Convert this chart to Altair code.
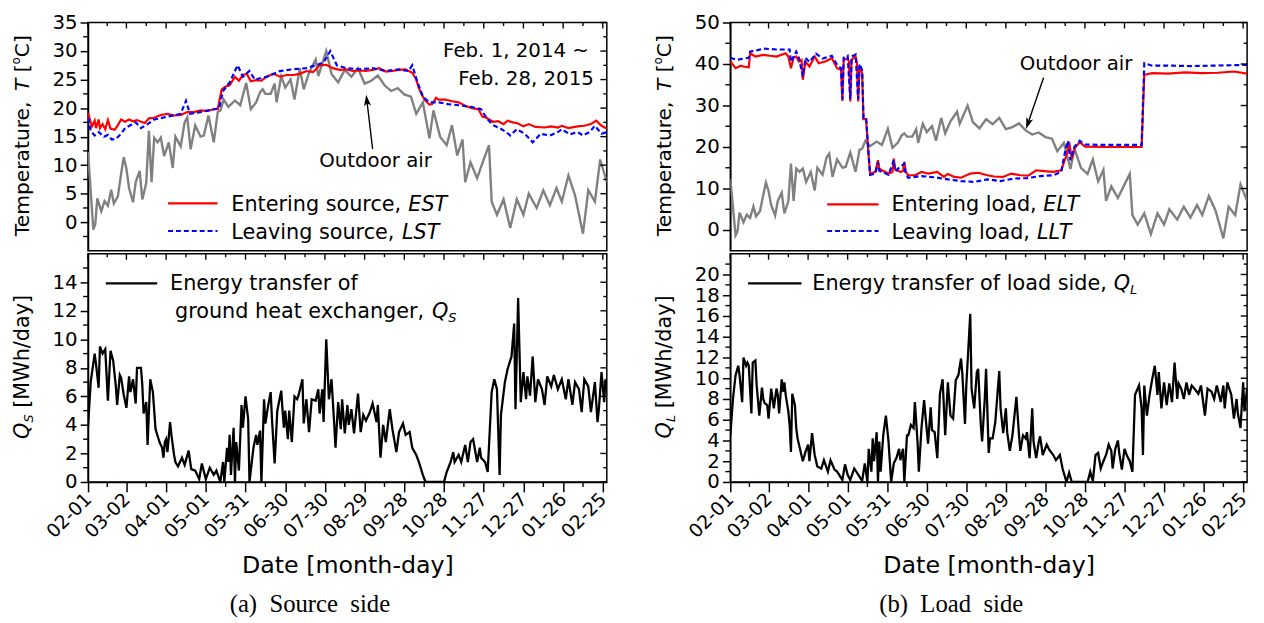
import math
import altair as alt
import pandas as pd

FONT = "DejaVu Sans"
SERIF = "Liberation Serif"
W_L, W_R, H = 525, 523, 231

# ---------------- axes ----------------
X_DOMAIN = [0, 392]
X_TICK_DAYS = [0, 29, 59, 89, 119, 149, 179, 209, 239, 269, 299, 329, 359, 389]
X_TICK_LABELS = ["02-01", "03-02", "04-01", "05-01", "05-31", "06-30", "07-30",
                 "08-29", "09-28", "10-28", "11-27", "12-27", "01-26", "02-25"]
X_MINOR_DAYS = [14.5, 44, 74, 104, 134, 164, 194, 224, 254, 284, 314, 344, 374]

TS_DOMAIN = [-5, 35]
TS_MAJOR = [0, 5, 10, 15, 20, 25, 30, 35]
TS_MINOR = [-2.5, 2.5, 7.5, 12.5, 17.5, 22.5, 27.5, 32.5]
QS_DOMAIN = [0, 16]
QS_MAJOR = [0, 2, 4, 6, 8, 10, 12, 14]
QS_MINOR = [1, 3, 5, 7, 9, 11, 13, 15]
TL_DOMAIN = [-5, 50]
TL_MAJOR = [0, 10, 20, 30, 40, 50]
TL_MINOR = [5, 15, 25, 35, 45]
QL_DOMAIN = [0, 22]
QL_MAJOR = [0, 2, 4, 6, 8, 10, 12, 14, 16, 18, 20]
QL_MINOR = [1, 3, 5, 7, 9, 11, 13, 15, 17, 19, 21]

# ---------------- data (day index from 2014-02-01, value) ----------------
OUTDOOR = [(0, 12.3), (4, -1.3), (5.5, -0.3), (7, 4.2), (10, 1.9), (12.5, 3.7), (15, 2.9),
           (17.5, 5.7), (19.5, 3.3), (22.5, 4.5), (25, 8.5), (27, 11.4), (29, 9.4), (31, 6),
           (34, 3.5), (36, 7), (39, 9), (41, 4), (44, 6.9), (46, 16), (48, 7), (50, 14.8),
           (52.5, 14), (55, 14.8), (57.5, 11.6), (61, 14), (64, 9.5), (66, 15), (70, 13.3),
           (73, 17.5), (75, 18.4), (77.5, 12.8), (81, 17), (85, 15), (87.5, 15.2), (91, 18.7),
           (95, 14), (98, 19.3), (100, 19.6), (102.5, 21.5), (106, 20.2), (111, 21.3), (115, 20.5),
           (119.5, 24.4), (123, 19.8), (127, 21), (130, 22.8), (132, 23.3), (134, 22.5),
           (138, 22.5), (141, 24.3), (142.5, 21), (146, 25.6), (149, 23.6), (153, 25), (156, 21.5),
           (160, 27), (163, 23.3), (167, 26.2), (172, 28.5), (174, 25.6), (180, 30), (184, 26),
           (189, 24.5), (194, 26.7), (199, 25.5), (204, 27), (209, 24.3), (214, 24.8), (219, 25.7),
           (224, 24), (229, 23), (234, 23.5), (239, 22.4), (244, 22), (248, 19), (253, 21),
           (258, 14.7), (261, 19.6), (266, 15), (271, 13.5), (275, 17), (279, 11.7), (283, 14.5),
           (285, 7), (289, 10.5), (294, 7.7), (299, 11), (303, 13.5), (305, 3.6), (309, 1.3),
           (314, 4), (319, -1), (324, 4), (329, 1.3), (333, 5), (339, 2.5), (344, 5.6), (349, 3),
           (354, 6), (358, 3.6), (363, 8.2), (368, 4.7), (374, -2), (378, 5.6), (383, 3.6),
           (387, 11), (392, 7)]

EST = [(0, 19.2), (2, 17.5), (3, 16.8), (5, 17.8), (6, 16.5), (8, 18), (9, 16.5), (11, 17.2),
       (13, 16.3), (15, 17.9), (17, 16.4), (20, 16.2), (22, 16.8), (25, 18), (28, 17.6), (31, 18),
       (34, 17.7), (37, 17.9), (40, 17.6), (43, 17.4), (46, 18.2), (50, 18.3), (55, 18.8), (60, 19),
       (65, 18.7), (70, 18.8), (75, 19.3), (80, 19.3), (85, 19.6), (90, 19.5), (95, 19.8), (98, 19.8),
       (101, 23.3), (104, 23.8), (107, 24), (111, 25.5), (114, 24.8), (117, 25.8), (120, 26),
       (123, 24.7), (127, 24.9), (131, 24.8), (135, 25.5), (140, 26), (145, 25.5), (150, 25.8),
       (155, 25.8), (160, 26), (165, 26.5), (170, 26.3), (175, 27.5), (180, 27.6), (185, 27),
       (190, 26.7), (195, 26.8), (200, 26.5), (205, 26.6), (210, 26.5), (215, 26.7), (220, 27),
       (225, 26.4), (230, 26.5), (235, 26.7), (240, 26.8), (245, 26.2), (248, 25), (250, 23.5),
       (253, 22), (255, 21.3), (258, 20.6), (260, 20.7), (263, 21.8), (265, 21.5), (270, 21.5),
       (275, 21.2), (280, 21), (285, 20.4), (290, 20), (295, 19.8), (298, 18.5), (301, 18.3),
       (306, 17.6), (310, 17.7), (314, 17.2), (317, 17.8), (321, 17.5), (325, 17.3), (329, 16.8),
       (333, 17.2), (338, 16.7), (345, 16.6), (350, 16.8), (355, 16.6), (358, 16.9), (363, 16.5),
       (370, 16.8), (375, 16.9), (380, 17.2), (384, 17.8), (388, 16.9), (392, 16.4)]

LST = [(0, 18.3), (2, 16), (5, 15.2), (8, 15.8), (12, 15), (15, 15.3), (18, 14.5), (21, 14.6),
       (25, 15.5), (28, 16.5), (32, 17), (36, 17.5), (40, 16.5), (45, 17.2), (50, 18), (60, 18.5),
       (70, 19), (74, 21.3), (77, 19), (85, 19.3), (95, 19.8), (99, 20), (102, 23), (107, 24.5),
       (110, 26), (113, 27.5), (117, 25.5), (122, 26.5), (126, 25), (135, 25.5), (145, 26.5),
       (155, 26.8), (165, 27), (172, 27.5), (178, 28), (183, 30), (188, 27.5), (195, 27),
       (205, 26.8), (215, 27), (225, 26.5), (235, 26.8), (242, 26.5), (245, 27.5), (249, 24.5),
       (253, 22), (258, 21), (265, 21), (272, 20.7), (280, 20.5), (290, 20.2), (297, 19.8),
       (301, 18.3), (306, 17), (311, 16.5), (316, 15.8), (319, 15.2), (324, 16.3), (330, 15.5),
       (336, 14), (342, 15.5), (349, 15.2), (355, 15.8), (358, 16.3), (364, 15.4), (370, 15.8),
       (374, 15.2), (379, 15.8), (383, 16.9), (388, 15.5), (392, 15.8)]

QS = [(0, 3.9), (2, 7), (5, 9), (6, 8.3), (8, 6.6), (9, 9.5), (11, 9), (13, 9.3), (15, 5.7),
      (17, 9.2), (19, 8.5), (21, 6.7), (22, 5.4), (24, 7.5), (25, 7.3), (27, 6.1), (29, 5.2),
      (31, 7.4), (32, 6.3), (34, 7.2), (36, 5.5), (37, 8), (40, 8), (41, 6.8), (42, 4.8), (44, 5.6),
      (45, 2.6), (47, 7.2), (49, 6.3), (51, 3.7), (52, 3.4), (54, 2.8), (56, 2.4), (57, 1.7),
      (58, 2.8), (59, 3.0), (60, 2.1), (62, 4.2), (63, 3.3), (65, 1.9), (66, 1.4), (68, 1.1),
      (71, 1.7), (73, 1.2), (76, 2.2), (78, 0.9), (81, 0.8), (84, 0.2), (86, 1.3), (89, 0.2),
      (92, 1), (95, 0.5), (97, 0.8), (100, 0), (102, 1.4), (103, 0), (105, 2.4), (106, 1.4),
      (107, 3.3), (108, 0.5), (110, 3.8), (111, 0), (112, 2.8), (114, 0.8), (116, 5.4), (117, 3.8),
      (119, 6), (121, 4.4), (122, 0), (124, 1.6), (125, 2.4), (127, 3.3), (128, 2.6), (130, 3.6),
      (131, 0), (133, 5.8), (134, 4.1), (136, 5.3), (138, 6.3), (139, 4.4), (141, 1.3), (143, 5),
      (146, 6.4), (147, 5), (148, 3.8), (149, 5), (151, 3), (152, 5), (154, 2.8), (156, 6),
      (158, 5.8), (159, 6.05), (162, 7.2), (163, 4.1), (165, 5.8), (167, 3.5), (169, 5.8),
      (172, 5.7), (174, 6.5), (175, 4.8), (177, 6.5), (178, 4.2), (180, 10), (182, 5.8), (184, 7.2),
      (186, 4.1), (187, 2.4), (189, 5.6), (191, 3.7), (192, 5.8), (194, 3.4), (196, 5.4), (197, 4),
      (199, 5.1), (201, 3.4), (204, 6.2), (206, 3.5), (208, 4.7), (210, 4.3), (213, 4.9),
      (215, 5.5), (218, 4.2), (219, 5.4), (221, 1.7), (223, 4), (225, 2.8), (228, 5.1), (230, 3.7),
      (233, 2.1), (235, 3.5), (238, 4.1), (240, 3.3), (243, 3.5), (245, 2.4), (248, 1.9),
      (250, 1.4), (253, 0.5), (255, 0), (269, 0), (271, 0.7), (274, 1.4), (276, 2.1), (277, 1.4),
      (280, 1.9), (282, 1.4), (285, 2.6), (287, 1.4), (289, 2.8), (291, 3), (294, 1.4), (296, 2.4),
      (297, 1.7), (300, 1.4), (302, 0.7), (305, 6.3), (307, 7.2), (309, 6.5), (311, 0.5),
      (312, 4.7), (315, 7), (317, 7.9), (320, 8.8), (322, 11.1), (323, 5.1), (325, 12.9),
      (327, 5.6), (329, 7.7), (331, 5.8), (332, 7.4), (334, 6.05), (336, 8.8), (338, 5.6),
      (340, 7.2), (343, 6.5), (345, 5.4), (347, 7.4), (350, 6.7), (352, 7.5), (355, 6.5),
      (358, 7.2), (361, 5.8), (363, 7.2), (366, 5.4), (368, 7), (371, 6.5), (373, 4.9), (375, 7.2),
      (378, 6.7), (380, 4.9), (383, 7), (385, 4.2), (386, 5.1), (388, 7.7), (390, 5.6), (391, 7.2),
      (392, 6.5)]

ELT = [(0, 40.6), (4, 39), (8, 39.6), (10, 39.4), (14, 39.2), (15, 42.6), (19, 41.8), (25, 42.2),
       (30, 42), (35, 41.8), (42, 42.6), (44, 41.8), (46, 39), (48, 41.6), (50, 41.8), (52, 40.6),
       (54, 41), (55, 36.2), (57, 40.6), (60, 39.4), (64, 41.8), (67, 40.2), (72, 40.6), (77, 41.4),
       (81, 39), (84, 38.6), (85, 31.1), (86, 41), (89, 41.4), (90, 40.5), (91, 31), (92, 41),
       (95, 41.8), (96, 40.5), (97, 31), (98, 39.4), (100, 37.8), (101, 26.7), (103, 26.7),
       (104.5, 19.6), (106, 13.6), (110, 14), (112, 16.8), (113, 14.8), (115, 14.4), (120, 13.6),
       (123, 14), (124, 17.2), (125, 14.6), (129, 14), (131, 14.2), (132, 16.4), (133, 14),
       (135, 13.2), (140, 13.2), (145, 14), (150, 13.6), (157, 14), (162, 12.8), (165, 13.5),
       (170, 12.8), (175, 12.6), (182, 13.6), (188, 13.8), (195, 13.2), (200, 12.9), (207, 12.8),
       (213, 13.6), (220, 13.2), (226, 13.1), (232, 14.4), (238, 14.2), (245, 14), (251, 14.4),
       (255, 18), (257, 21.2), (259, 17.2), (261, 19.6), (265, 21.2), (269, 20.1), (282, 20),
       (300, 20), (312, 20), (314, 37.4), (320, 37.8), (332, 37.7), (345, 38), (357, 37.8),
       (370, 37.9), (382, 38.2), (392, 37.7)]

LLT = [(0, 41.5), (5, 41), (10, 41.3), (14, 41.5), (15, 43), (20, 43.3), (25, 43.7), (35, 43.5),
       (45, 43.5), (46, 40.5), (50, 43), (52, 41.5), (55, 37), (57, 41.5), (60, 40.5), (65, 42.5),
       (70, 41.3), (77, 42), (81, 39.8), (84, 39), (85, 31.5), (86, 41.5), (89, 42), (91, 31.5),
       (92, 41.8), (95, 42.3), (97, 31.5), (98, 40), (100, 38.5), (101, 27), (103, 27), (104.5, 20),
       (106, 13.3), (110, 13.6), (112, 16.3), (113, 14.3), (115, 14), (120, 13.3), (124, 16.8),
       (125, 14.2), (132, 16), (133, 13.6), (135, 12.6), (145, 13), (155, 12.7), (165, 12.2),
       (175, 11.8), (185, 11.6), (195, 12.2), (205, 11.8), (215, 12.4), (225, 12.5), (235, 13),
       (245, 13.2), (251, 14), (254, 19), (256, 21.5), (258, 16.8), (261, 20), (265, 21.5),
       (269, 20.6), (282, 20.5), (300, 20.5), (312, 20.5), (314, 40.2), (320, 39.6), (335, 39.6),
       (350, 39.5), (365, 39.6), (380, 39.7), (392, 39.8)]

QL = [(0, 4.5), (2, 8), (4, 10.3), (6, 11.2), (7, 10.3), (9, 7.7), (10, 12), (12, 11.2), (13, 11.5),
      (14, 11.2), (16, 6.6), (17, 11.5), (19, 11.7), (20, 9.3), (22, 6.4), (24, 9.1), (25, 8),
      (26, 7.6), (28, 7.4), (29, 6.1), (31, 9), (33, 7.1), (35, 9), (36, 8.4), (37, 6.6), (39, 9.9),
      (40, 8.7), (41, 9.6), (42, 8.4), (44, 6.8), (45, 5.5), (46, 2.9), (47, 8.5), (49, 7.4),
      (50, 5.2), (51, 4.2), (53, 3.1), (55, 2), (57, 2.9), (59, 3.6), (60, 2), (62, 4.7), (64, 2.6),
      (66, 1.5), (69, 1.3), (71, 2.1), (74, 1), (76, 2.1), (79, 1.2), (81, 1), (85, 0.2), (87, 1.7),
      (89, 0.7), (91, 0.2), (94, 1.3), (97, 0.7), (100, 0.1), (102, 1.8), (104, 0), (105, 3.2),
      (107, 1), (108, 4.2), (109, 2), (111, 4.8), (112, 0), (113, 3.9), (114, 1), (116, 4.5),
      (118, 6.4), (120, 3.9), (122, 0), (124, 1.8), (126, 2.3), (128, 3.2), (129, 2.1), (131, 3.2),
      (132, 0), (134, 4.5), (135, 4.5), (137, 5.5), (139, 5.2), (140, 7.7), (142, 3.9), (143, 1),
      (145, 5.2), (147, 7.9), (148, 6.4), (150, 3.7), (152, 7.2), (153, 5), (155, 4.8), (157, 2.3),
      (159, 8.5), (161, 9.9), (163, 4.5), (165, 9.6), (167, 6.4), (169, 6.1), (171, 9.8),
      (173, 10.3), (175, 11.9), (176, 10.4), (178, 5.6), (179, 9.3), (182, 16.2), (183, 9),
      (185, 7.1), (187, 10.6), (188, 10.9), (190, 5.5), (191, 3.9), (193, 8), (194, 10.9),
      (196, 2.8), (197, 4.2), (199, 4.2), (201, 5.8), (204, 10.7), (205, 7.1), (207, 4.7),
      (209, 7.1), (210, 4.8), (212, 3), (214, 4.5), (217, 8.2), (219, 4.5), (220, 3), (222, 4.5),
      (224, 4.2), (225, 4.8), (227, 2.3), (229, 7.1), (230, 3.9), (232, 2.3), (234, 3.9),
      (235, 4.4), (237, 2.6), (240, 3.6), (242, 3.1), (245, 2.6), (247, 2.1), (250, 2.6),
      (252, 1.3), (255, 0), (257, 0.9), (259, 0), (271, 0), (273, 1), (275, 0.1), (277, 2.6),
      (279, 2.8), (281, 1.3), (283, 2), (285, 2.6), (287, 3.6), (289, 3), (290, 1.3), (292, 3.2),
      (294, 4), (295, 2.8), (297, 1.2), (299, 3.2), (301, 2.5), (303, 2), (305, 1), (307, 8.4),
      (310, 9.3), (312, 7.1), (313, 2.6), (314, 9.3), (316, 6.4), (318, 8.4), (320, 9.9),
      (322, 11.2), (324, 8.4), (325, 10.6), (327, 7.1), (329, 9.6), (331, 7.4), (333, 9.5),
      (335, 7.7), (337, 11.5), (339, 8), (340, 9.5), (342, 9), (344, 8), (346, 9.6), (348, 8.4),
      (350, 9.3), (352, 9), (355, 8.5), (357, 9.3), (360, 6.4), (362, 9), (365, 8.7), (367, 8),
      (369, 9.3), (372, 7.7), (374, 9.3), (375, 7.1), (377, 9.6), (380, 8.4), (382, 6.1), (384, 8),
      (385, 6.6), (387, 5.2), (389, 9.6), (390, 6.8), (392, 9)]

# ---------------- text metrics (DejaVu Sans advance widths, 1/1000 em) ----------------
CW = {" ": 318, ",": 318, ".": 318, "[": 390, "]": 390, "/": 337, "-": 361, "(": 390, ")": 390,
      "~": 838, "°": 500, "a": 613, "b": 635, "c": 550, "d": 635, "e": 615, "f": 352, "g": 635,
      "h": 634, "i": 278, "j": 278, "k": 579, "l": 278, "m": 974, "n": 634, "o": 612, "p": 635,
      "q": 635, "r": 411, "s": 521, "t": 392, "u": 634, "v": 592, "w": 818, "x": 592, "y": 592,
      "z": 525, "C": 698, "D": 770, "E": 632, "F": 575, "L": 557, "M": 863, "O": 787, "Q": 787,
      "S": 635, "T": 611, "W": 989}
for _d in "0123456789":
    CW[_d] = 636


def tw(s, size):
    return sum(CW.get(c, 600) for c in s) * size / 1000.0


ONE = pd.DataFrame({"k": [0]})


def xscale():
    return alt.Scale(domain=X_DOMAIN, nice=False, zero=False)


def yscale(dom):
    return alt.Scale(domain=dom, nice=False, zero=False)


def series(pairs, dom, color, width, xaxis, yaxis, dash=None):
    kw = dict(color=color, strokeWidth=width, clip=True)
    if dash:
        kw["strokeDash"] = dash
    df = pd.DataFrame(pairs, columns=["day", "value"])
    return alt.Chart(df).mark_line(**kw).encode(
        x=alt.X("day:Q", scale=xscale(), axis=xaxis),
        y=alt.Y("value:Q", scale=yscale(dom), axis=yaxis))


def vticks(days, y0, y1, xaxis):
    return alt.Chart(pd.DataFrame({"day": days})).mark_rule(color="black", strokeWidth=1.4).encode(
        x=alt.X("day:Q", scale=xscale(), axis=xaxis), y=alt.value(y0), y2=alt.value(y1))


def hticks(vals, dom, x0, x1, yaxis):
    return alt.Chart(pd.DataFrame({"value": vals})).mark_rule(color="black", strokeWidth=1.4).encode(
        y=alt.Y("value:Q", scale=yscale(dom), axis=yaxis), x=alt.value(x0), x2=alt.value(x1))


def text_run(parts, x, y, angle=0, center=False, align_right=False):
    total = sum(tw(t, s) for t, s, _, _ in parts)
    off = 0.0
    if center:
        off = -total / 2
    if align_right:
        off = -total
    out = []
    for t, s, it, dy in parts:
        lead = len(t) - len(t.lstrip(" "))
        shown = t.strip(" ")
        kw = dict(text=shown, font=FONT, fontSize=s, align="left", baseline="alphabetic",
                  color="black", dx=off + tw(" " * lead, s), dy=dy)
        if it:
            kw["fontStyle"] = "italic"
        if angle:
            kw["angle"] = angle
        out.append(alt.Chart(ONE).mark_text(**kw).encode(x=alt.value(x), y=alt.value(y)))
        off += tw(t, s)
    return out


def legend_line(x0, x1, y, color, dash=None, width=2.2):
    kw = dict(color=color, strokeWidth=width)
    if dash:
        kw["strokeDash"] = dash
    return alt.Chart(ONE).mark_rule(**kw).encode(
        x=alt.value(x0), x2=alt.value(x1), y=alt.value(y))


def arrow(x0, y0, x1, y1, size=170):
    dxv, dyv = x1 - x0, y1 - y0
    L = math.hypot(dxv, dyv)
    ux, uy = dxv / L, dyv / L
    ang = math.degrees(math.atan2(dxv, -dyv)) % 360
    half = math.sqrt(size) / 2
    cx, cy = x1 - ux * half, y1 - uy * half
    shaft = alt.Chart(ONE).mark_rule(color="black", strokeWidth=1.4).encode(
        x=alt.value(x0), y=alt.value(y0), x2=alt.value(cx), y2=alt.value(cy))
    head = alt.Chart(ONE).mark_point(
        shape="M0,-1L-0.55,0.75L0,0.35L0.55,0.75Z", filled=True, color="black",
        opacity=1, size=size, angle=ang).encode(x=alt.value(cx), y=alt.value(cy))
    return [shaft, head]


def y_axis(values):
    return alt.Axis(values=values, title=None, tickSize=8, labelFontSize=20, labelPadding=3,
                    labelColor="black", grid=False)


label_expr = "[" + ",".join("'%s'" % s for s in X_TICK_LABELS) + "][indexof([" + \
    ",".join(str(v) for v in X_TICK_DAYS) + "], datum.value)]"

X_AXIS_BOTTOM = alt.Axis(values=X_TICK_DAYS, labelExpr=label_expr, labelAngle=-45,
                         labelAlign="right", labelBaseline="middle", labelFontSize=19,
                         labelPadding=4, labelOverlap=False, labelBound=False, tickSize=10,
                         title="Date [month-day]", titleFontSize=24, titleFontWeight="normal",
                         titlePadding=12, grid=False)


def panel_layers(W, dom, ymaj, ymin, xaxis, bottom_panel):
    yax = y_axis(ymaj)
    layers = [vticks(X_TICK_DAYS, 0, 6, xaxis), vticks(X_MINOR_DAYS, 0, 3.5, xaxis),
              hticks(ymaj, dom, W, W - 6.5, yax), hticks(ymin, dom, W, W - 3.5, yax),
              hticks(ymin, dom, 0, -5, yax)]
    if bottom_panel:
        layers.append(vticks(X_MINOR_DAYS, H, H + 5, xaxis))
    return layers


GRAY, RED, BLUE = "#808080", "#ff0000", "#0000ff"
DASH = [5, 3]
TEMP_TITLE = [("Temperature, ", 20.5, False, 0), ("T", 20.5, True, 0), (" [", 20.5, False, 0),
              ("o", 12, False, -9), ("C]", 20.5, False, 0)]

# ---------------- (a) source side ----------------
yax_ts = y_axis(TS_MAJOR)
tl = alt.layer(
    series(OUTDOOR, TS_DOMAIN, GRAY, 2.4, None, yax_ts),
    series(EST, TS_DOMAIN, RED, 2.2, None, yax_ts),
    series(LST, TS_DOMAIN, BLUE, 2.2, None, yax_ts, dash=DASH),
    *panel_layers(W_L, TS_DOMAIN, TS_MAJOR, TS_MINOR, None, False),
    legend_line(81, 131, 183, RED),
    legend_line(81, 131, 211, BLUE, DASH),
    *text_run([("Entering source, ", 21, False, 0), ("EST", 21, True, 0)], 145, 191),
    *text_run([("Leaving source, ", 21, False, 0), ("LST", 21, True, 0)], 145, 219),
    *text_run([("Feb. 1, 2014 ~", 20, False, 0)], 508, 35, align_right=True),
    *text_run([("Feb. 28, 2015", 20, False, 0)], 513, 63, align_right=True),
    *text_run([("Outdoor air", 20, False, 0)], 291, 146, center=True),
    *arrow(288, 128, 281.5, 73),
    *text_run(TEMP_TITLE, -60, H / 2 - 1, angle=270, center=True),
).properties(width=W_L, height=H)

yax_qs = y_axis(QS_MAJOR)
bl = alt.layer(
    series(QS, QS_DOMAIN, "black", 2.3, X_AXIS_BOTTOM, yax_qs),
    *panel_layers(W_L, QS_DOMAIN, QS_MAJOR, QS_MINOR, X_AXIS_BOTTOM, True),
    legend_line(18, 70, 30, "black"),
    *text_run([("Energy transfer of", 21, False, 0)], 83, 37),
    *text_run([("ground heat exchanger, ", 21, False, 0), ("Q", 21, True, 0), ("S", 13, True, 4)], 88, 65),
    *text_run([("Q", 21, True, 0), ("S", 13, True, 4), (" [MWh/day]", 21, False, 0)], -60, H / 2 - 1,
              angle=270, center=True),
).properties(width=W_L, height=H)

# ---------------- (b) load side ----------------
yax_tl = y_axis(TL_MAJOR)
tr = alt.layer(
    series(OUTDOOR, TL_DOMAIN, GRAY, 2.4, None, yax_tl),
    series(ELT, TL_DOMAIN, RED, 2.2, None, yax_tl),
    series(LLT, TL_DOMAIN, BLUE, 2.2, None, yax_tl, dash=DASH),
    *panel_layers(W_R, TL_DOMAIN, TL_MAJOR, TL_MINOR, None, False),
    legend_line(98, 150, 184, RED),
    legend_line(98, 150, 211, BLUE, DASH),
    *text_run([("Entering load, ", 21, False, 0), ("ELT", 21, True, 0)], 163, 191),
    *text_run([("Leaving load, ", 21, False, 0), ("LLT", 21, True, 0)], 163, 219),
    *text_run([("Outdoor air", 20, False, 0)], 350, 48, center=True),
    *arrow(317, 56, 299.3, 107.7),
    *text_run(TEMP_TITLE, -60, H / 2 - 1, angle=270, center=True),
).properties(width=W_R, height=H)

yax_ql = y_axis(QL_MAJOR)
br = alt.layer(
    series(QL, QL_DOMAIN, "black", 2.3, X_AXIS_BOTTOM, yax_ql),
    *panel_layers(W_R, QL_DOMAIN, QL_MAJOR, QL_MINOR, X_AXIS_BOTTOM, True),
    legend_line(18, 72, 30, "black"),
    *text_run([("Energy transfer of load side, ", 21, False, 0), ("Q", 21, True, 0), ("L", 13, True, 4)], 83, 37),
    *text_run([("Q", 21, True, 0), ("L", 13, True, 4), (" [MWh/day]", 21, False, 0)], -60, H / 2 - 1,
              angle=270, center=True),
).properties(width=W_R, height=H)


def sub_title(t):
    return alt.TitleParams(text=t, orient="bottom", font=SERIF, fontSize=25, fontWeight="normal",
                           anchor="middle", color="black", offset=15)


left = alt.vconcat(tl, bl, spacing=0, title=sub_title("(a)\u00a0\u00a0Source\u00a0\u00a0side"))
right = alt.vconcat(tr, br, spacing=0, title=sub_title("(b)\u00a0\u00a0Load\u00a0\u00a0side"))

chart = alt.hconcat(left, right, spacing=41).properties(
    padding={"left": 1, "top": 0, "right": 5, "bottom": 0}
).configure_view(stroke="black", strokeWidth=1.5).configure_axis(
    labelFont=FONT, titleFont=FONT, labelColor="black", titleColor="black", tickColor="black",
    domainColor="black", tickWidth=1.5, domainWidth=1.5, grid=False
)

chart.save("out.html", embed_options={"renderer": "svg", "actions": False})
